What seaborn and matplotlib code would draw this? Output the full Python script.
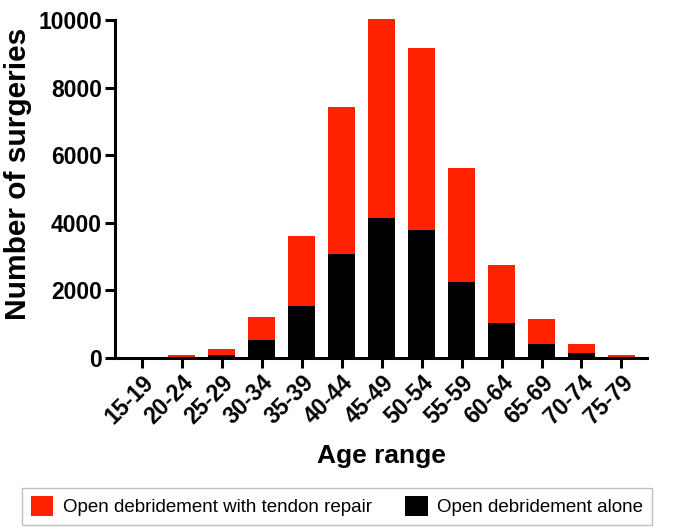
import matplotlib
matplotlib.use("Agg")
import matplotlib.pyplot as plt
import seaborn as sns
import pandas as pd
from matplotlib.patches import Patch

age_ranges = ["15-19", "20-24", "25-29", "30-34", "35-39", "40-44", "45-49",
              "50-54", "55-59", "60-64", "65-69", "70-74", "75-79"]
debridement_alone = [5, 20, 80, 520, 1540, 3080, 4150, 3790, 2240, 1045, 405, 140, 25]
with_tendon_repair = [5, 60, 195, 700, 2080, 4340, 5880, 5390, 3390, 1715, 745, 285, 65]

RED = "#FF2200"
BLACK = "#000000"

sns.set_theme(style="ticks")
plt.rcParams["font.family"] = ["Liberation Sans", "DejaVu Sans"]
for k in ["text.color", "axes.labelcolor", "xtick.color", "ytick.color", "axes.edgecolor"]:
    plt.rcParams[k] = "black"

df = pd.DataFrame({
    "age": age_ranges,
    "alone": debridement_alone,
    "repair": with_tendon_repair,
})
df["total"] = df["alone"] + df["repair"]

fig = plt.figure(figsize=(6.74, 5.29), dpi=100)
ax = fig.add_axes([0.1706, 0.3233, 0.79, 0.6389])

sns.barplot(data=df, x="age", y="total", order=age_ranges, color=RED,
            width=0.67, saturation=1, ax=ax, linewidth=0)
sns.barplot(data=df, x="age", y="alone", order=age_ranges, color=BLACK,
            width=0.67, saturation=1, ax=ax, linewidth=0)

ax.set_ylim(0, 10000)
ax.set_xlim(-0.67, 12.65)
ax.set_yticks([0, 2000, 4000, 6000, 8000, 10000])
ax.set_xticks(range(len(age_ranges)))
ax.set_xticklabels(age_ranges, rotation=45, ha="right", rotation_mode="anchor",
                   fontweight="bold", fontsize=16.5)
for t in ax.get_yticklabels():
    t.set_fontweight("bold")
    t.set_fontsize(16.5)

ax.set_xlabel("Age range", fontsize=19, fontweight="bold", labelpad=11)
ax.set_ylabel("Number of surgeries", fontsize=21.5, fontweight="bold")
ax.yaxis.set_label_coords(-0.155, 0.545)

sns.despine(ax=ax)
for s in ["left", "bottom"]:
    ax.spines[s].set_linewidth(2.2)
    ax.spines[s].set_color("black")
ax.tick_params(axis="both", length=7.5, width=2.2, color="black", direction="out", pad=2)
for b in ax.patches:
    b.set_clip_on(False)

handles = [Patch(facecolor=RED, edgecolor="none", label="Open debridement with tendon repair"),
           Patch(facecolor=BLACK, edgecolor="none", label="Open debridement alone")]
leg = fig.legend(handles=handles, loc="center", bbox_to_anchor=(0.5, 0.043), ncol=2,
                 frameon=True, fancybox=False, fontsize=13.5, handlelength=1.2,
                 handleheight=1.2, columnspacing=1.8, handletextpad=0.5,
                 borderpad=0.45, edgecolor="#b0b0b0")
leg.get_frame().set_linewidth(1.0)

fig.savefig("out.png", dpi=100)
